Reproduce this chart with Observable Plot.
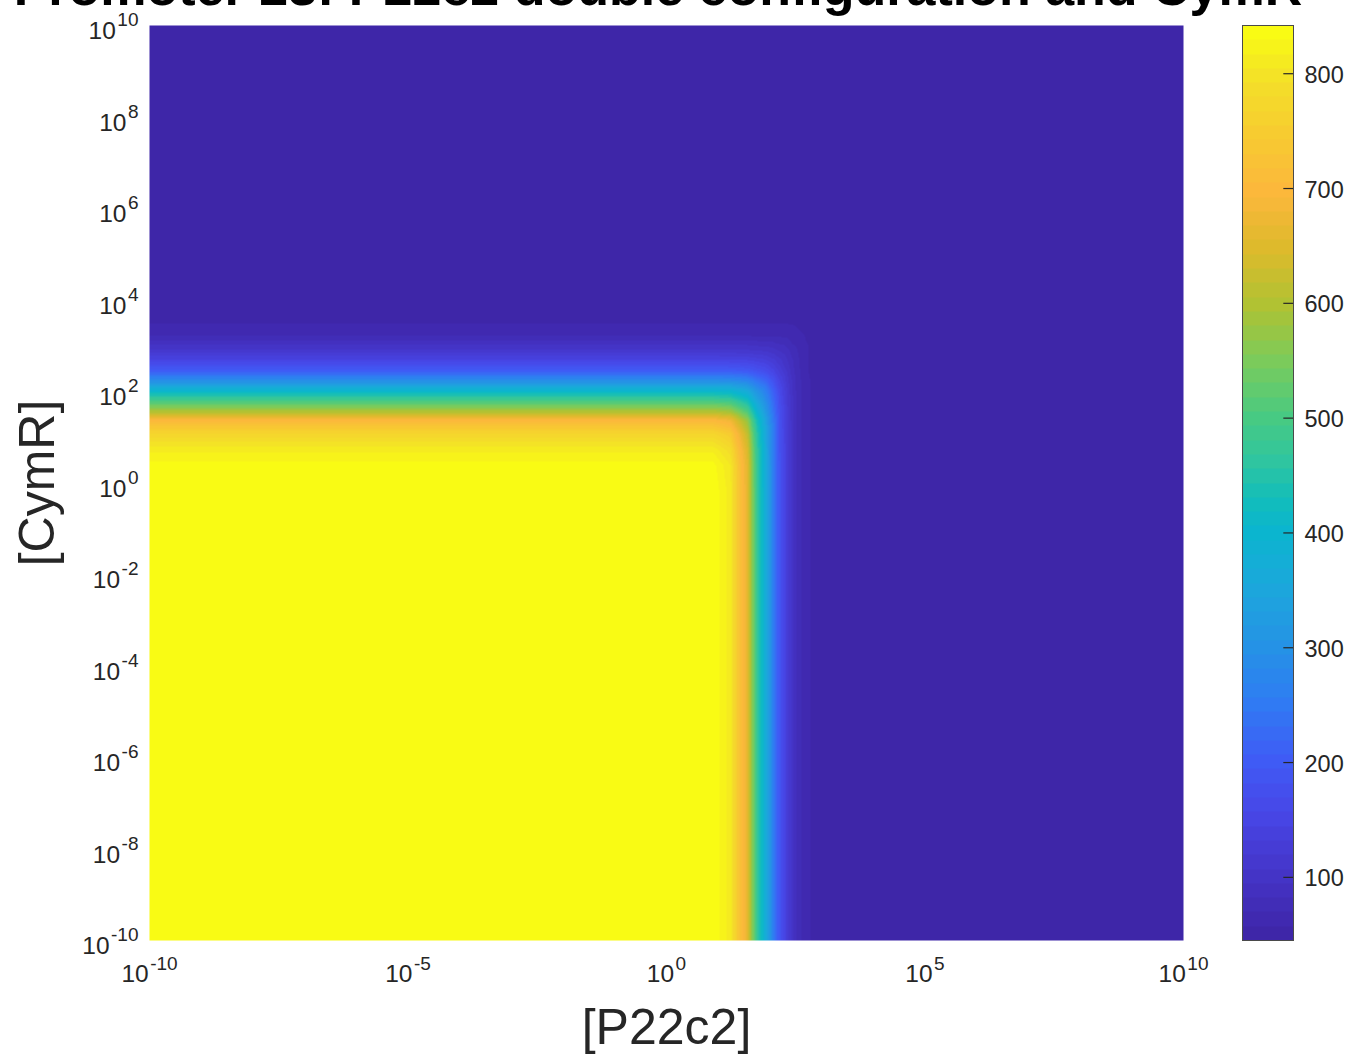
<!DOCTYPE html>
<html><head><meta charset="utf-8">
<script src="https://cdn.jsdelivr.net/npm/d3@7"></script>
<script src="https://cdn.jsdelivr.net/npm/@observablehq/plot@0.6"></script>
<style>
body{margin:0;background:#fff;overflow:hidden}
#wrap{position:relative;width:1349px;height:1055px;font-family:"Liberation Sans",Arial,Helvetica,sans-serif;overflow:hidden}
#title{position:absolute;left:-8px;width:1332px;top:-39px;text-align:center;font-size:52px;font-weight:bold;line-height:52px;color:#000;white-space:nowrap;z-index:2}
#main{position:absolute;left:0;top:0}
#cbar{position:absolute;left:1200px;top:0}
</style></head>
<body><div id="wrap"><div id="main"></div><div id="cbar"></div><div id="title">Promoter 23: P22c2 double configuration and CymR</div></div>
<script>
// ---- data (log10 positions of samples, and expression values) ----
const xExp = [-10, 0.9, 1.24, 1.43, 1.57, 1.66, 1.76, 1.86, 1.97, 2.07, 2.20, 2.36, 2.50, 2.69, 2.98, 10];
const yExp = [-10, -0.16, 0.38, 0.71, 1.08, 1.37, 1.54, 1.74, 2.02, 2.24, 2.46, 2.68, 2.90, 3.22, 3.55, 10];
const expression = [
  [840,840,810,720,658,560,470,411,330,260,180,120,85,60,52,50],
  [840,840,810,720,658,560,470,411,330,260,180,120,85,60,52,50],
  [835,835,805,716,655,558,469,410,330,260,180,120,85,60,52,50],
  [815,815,786,701,643,549,463,405,327,258,179,120,85,60,52,50],
  [770,770,745,669,615,530,450,395,321,255,178,119,85,60,52,50],
  [700,700,679,616,571,498,427,378,310,249,175,119,85,60,52,50],
  [610,610,594,547,512,453,395,354,295,239,172,117,84,60,52,50],
  [520,520,509,475,449,404,358,325,276,228,167,116,84,60,52,50],
  [400,400,394,374,359,331,302,279,244,207,158,113,83,60,52,50],
  [290,290,287,278,270,256,239,226,205,181,144,108,82,60,52,50],
  [200,200,199,195,192,186,178,172,161,148,126,101,79,59,52,50],
  [150,150,149,148,146,143,140,137,131,124,111,93,77,59,52,50],
  [110,110,110,109,109,107,106,105,103,100,93,84,73,59,52,50],
  [70,70,70,70,70,69,69,69,69,69,68,66,63,57,52,50],
  [55,55,55,55,55,55,55,55,55,55,55,55,54,53,51,50],
  [50,50,50,50,50,50,50,50,50,50,50,50,50,50,50,50]
];
const xTickExp = [-10, -5, 0, 5, 10];
const yTickExp = [-10, -8, -6, -4, -2, 0, 2, 4, 6, 8, 10];
const cbarTicks = [100, 200, 300, 400, 500, 600, 700, 800];
const colorDomain = [45, 842];
const xLabel = "[P22c2]";
const yLabel = "[CymR]";

// ---- parula-like colormap, 64 steps ----
const parulaStops = [0,0.069,0.132,0.194,0.263,0.320,0.383,0.445,0.483,0.521,0.571,0.634,0.696,0.759,0.822,0.885,0.947,1];
const parulaColors = ["#3e26a8","#4535c9","#4746e6","#3f5cf6","#2e7ef2","#2593e5","#1ca7dc","#0bb5cf","#12bdba","#2ec5a2","#47ca83","#7acb5c","#afc233","#ddba2b","#fcb73c","#f7cb31","#f3e028","#f9fb14"];
const parulaCont = d3.scaleLinear().domain(parulaStops).range(parulaColors).interpolate(d3.interpolateRgb).clamp(true);
const parulaQ = t => parulaCont(Math.min(63, Math.max(0, Math.floor(t * 64))) / 63);

const FONT = "Liberation Sans, Arial, Helvetica, sans-serif";
const ink = "#262626";
const ctx = document.createElement("canvas").getContext("2d");
function tw(s, size) { ctx.font = `${size}px "Liberation Sans", Arial, sans-serif`; return ctx.measureText(s).width; }
const BASE = 24.5, EXP = 19, GAP = 1.5;

const samples = [];
yExp.forEach((ye, j) => xExp.forEach((xe, i) => samples.push({x: 10 ** xe, y: 10 ** ye, v: expression[j][i]})));

const labelMarks = [];
const w10 = tw("10", BASE);
for (const e of xTickExp) {
  const we = tw(String(e), EXP);
  const total = w10 + GAP + we;
  const end10 = -total / 2 + w10;
  labelMarks.push(Plot.text([e], {x: d => 10 ** d, y: 1e-10, text: () => "10", textAnchor: "end", dx: end10, dy: 34, fontSize: BASE, fill: ink}));
  labelMarks.push(Plot.text([e], {x: d => 10 ** d, y: 1e-10, text: d => String(d), textAnchor: "start", dx: end10 + GAP, dy: 23.5, fontSize: EXP, fill: ink}));
}
for (const e of yTickExp) {
  const we = tw(String(e), EXP);
  labelMarks.push(Plot.text([e], {x: 1e-10, y: d => 10 ** d, text: () => "10", textAnchor: "end", dx: -11 - we - GAP, dy: 6, fontSize: BASE, fill: ink}));
  labelMarks.push(Plot.text([e], {x: 1e-10, y: d => 10 ** d, text: d => String(d), textAnchor: "end", dx: -11, dy: -5.5, fontSize: EXP, fill: ink}));
}

const main = Plot.plot({
  width: 1242, height: 1055,
  marginLeft: 149, marginRight: 59, marginTop: 25, marginBottom: 115,
  style: {fontFamily: FONT, color: ink, background: "transparent"},
  x: {type: "log", domain: [1e-10, 1e10], axis: null},
  y: {type: "log", domain: [1e-10, 1e10], axis: null},
  color: {type: "linear", domain: colorDomain, interpolate: parulaQ},
  marks: [
    Plot.raster(samples, {x: "x", y: "y", fill: "v", x1: 1e-10, x2: 1e10, y1: 1e-10, y2: 1e10, interpolate: "barycentric", pixelSize: 1}),
    ...labelMarks,
    Plot.text([0], {frameAnchor: "bottom", text: () => xLabel, fontSize: 50, dy: 87, lineAnchor: "middle", textAnchor: "middle", fill: ink}),
    Plot.text([0], {frameAnchor: "left", text: () => yLabel, fontSize: 50, rotate: -90, dx: -112, lineAnchor: "middle", textAnchor: "middle", fill: ink})
  ]
});
document.getElementById("main").appendChild(main);

const cbar = Plot.plot({
  width: 149, height: 1055,
  marginLeft: 42, marginRight: 56, marginTop: 25, marginBottom: 115,
  style: {fontFamily: FONT, color: ink, background: "transparent"},
  x: {domain: [0, 1], axis: null},
  y: {domain: colorDomain, axis: null},
  color: {type: "linear", domain: colorDomain, interpolate: parulaQ},
  marks: [
    Plot.raster({x1: 0, x2: 1, y1: colorDomain[0], y2: colorDomain[1], fill: (x, y) => y, pixelSize: 1}),
    Plot.frame({stroke: "#4a4a4a", strokeWidth: 1}),
    Plot.ruleY(cbarTicks, {y: d => d, x1: 0.81, x2: 1, stroke: ink, strokeWidth: 1.2}),
    Plot.text(cbarTicks, {x: 1, y: d => d, text: d => String(d), textAnchor: "start", dx: 11, dy: 1.5, fontSize: 23.5, fill: ink})
  ]
});
document.getElementById("cbar").appendChild(cbar);
</script>
</body></html>
